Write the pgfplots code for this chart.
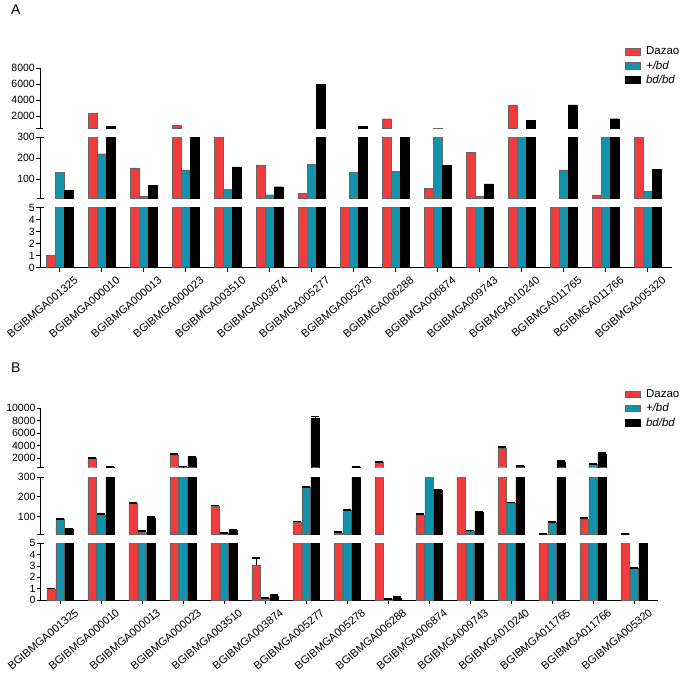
\documentclass[border=0pt]{standalone}
\usepackage{fontspec}
\setmainfont{Liberation Sans}
\usepackage{pgfplots}
\usepackage{pgfplotstable}
\pgfplotsset{compat=1.18}
\definecolor{dazao}{RGB}{241,60,62}
\definecolor{het}{RGB}{20,146,172}

% panel A: x = gene index, D = Dazao, H = +/bd, B = bd/bd
\pgfplotstableread{
x D H B
0 1 132 48
1 2370 222 750
2 155 18 73
3 910 145 400
4 400 51 159
5 165 27 65
6 34 173 5970
7 8 134 750
8 1690 138 400
9 56 530 167
10 227 22 79
11 3400 400 1450
12 7 145 3400
13 26 400 1690
14 400 45 146
}\dataA

% panel B, with errors
\pgfplotstableread{
x D H B eD eH eB
0 0.97 86 35 0.05 3 2
1 2000 109 530 80 4 30
2 165 23 94 5 2 3
3 2580 660 2100 80 30 80
4 153 17 32 3 1 2
5 3.1 0.15 0.38 0.6 0.03 0.05
6 72 246 8400 3 4 300
7 18 131 660 2 3 30
8 1410 0.05 0.2 60 0.01 0.05
9 108 400 231 4 10 4
10 400 27 121 10 2 4
11 3650 168 770 150 3 30
12 11 69 1460 2 3 60
13 87 1044 2690 4 40 100
14 11 2.77 8 1 0.08 0.3
}\dataB

\pgfplotsset{
  seg/.style={
    scale only axis,
    ybar=0.4pt, bar width=8.6pt,
    axis y line*=left,
    scaled y ticks=false,
    tick align=outside, major tick length=4pt,
    y axis line style={line width=0.9pt},
    ytick style={black, line width=0.9pt},
    yticklabel style={font=\fontsize{10.5}{12}\selectfont, inner sep=1pt},
    extra y tick style={tick align=center, major tick length=7pt},
    extra y tick labels={},
    clip marker paths=true,
  },
  upper/.style={hide x axis},
  % keep only what lies in this segment
  cap/.style 2 args={y filter/.expression={y<#1 ? nan : min(y,#2)}},
  segA/.style={seg, width=632pt, xmin=-0.469, xmax=14.58},
  segB/.style={seg, width=617.6pt, xmin=-0.478, xmax=14.59},
  genes/.style={
    axis x line*=bottom,
    xtick={0,...,14},
    xticklabels={BGIBMGA001325,BGIBMGA000010,BGIBMGA000013,BGIBMGA000023,BGIBMGA003510,BGIBMGA003874,BGIBMGA005277,BGIBMGA005278,BGIBMGA006288,BGIBMGA006874,BGIBMGA009743,BGIBMGA010240,BGIBMGA011765,BGIBMGA011766,BGIBMGA005320},
    % shifts are in the rotated frame
    x tick label style={rotate=40, anchor=north east, inner sep=0pt,
      xshift=8.2pt, yshift=-12pt, font=\fontsize{11}{12}\selectfont},
    x axis line style={line width=0.9pt},
    xtick style={black, line width=0.9pt},
  },
  box/.style={legend image code/.code={\draw[##1] (0pt,-3.3pt) rectangle (15pt,3.3pt);}},
  keys/.style={
    legend style={draw=none, fill=none, inner sep=0pt, row sep=1.5pt, column sep=4pt,
      font=\fontsize{11.5}{13}\selectfont, nodes={inner sep=1.5pt}},
    legend cell align=left,
  },
  errs/.style={
    error bars/y dir=plus, error bars/y explicit,
    error bars/error bar style={black, line width=0.7pt},
    error bars/error mark options={black, rotate=90, line width=1.8pt, mark size=4.2pt},
  },
}

\newcommand{\barsA}{%
  \addplot[fill=dazao, draw=black!60, box] table[x=x,y=D]{\dataA};
  \addplot[fill=het, draw=black!60, box] table[x=x,y=H]{\dataA};
  \addplot[fill=black, draw=black, box] table[x=x,y=B]{\dataA};
}
\newcommand{\barsB}{%
  \addplot[fill=dazao, draw=black!60, box, errs] table[x=x,y=D,y error=eD]{\dataB};
  \addplot[fill=het, draw=black!60, box, errs] table[x=x,y=H,y error=eH]{\dataB};
  \addplot[fill=black, draw=black, box, errs] table[x=x,y=B,y error=eB]{\dataB};
}

\begin{document}
\begin{tikzpicture}
\useasboundingbox (0pt,0pt) rectangle (685pt,-680pt);

\node[anchor=west, inner sep=0pt, font=\fontsize{14}{16}\selectfont] at (11pt,-10pt) {A};
\node[anchor=west, inner sep=0pt, font=\fontsize{14}{16}\selectfont] at (11pt,-367.5pt) {B};

% ---- panel A ----
\begin{axis}[segA, upper, cap={500}{11000}, at={(40pt,-128.3pt)}, anchor=south west, height=60.3pt,
  ymin=500, ymax=8000, ytick={2000,4000,6000,8000},
  yticklabels={2000,4000,6000,8000}, extra y ticks={500},
  keys, legend style={at={(axis description cs:0.9256,1.38)}, anchor=north west}]
\barsA
\addlegendentry{Dazao}
\addlegendentry{\textit{+/bd}}
\addlegendentry{\textit{bd/bd}}
\end{axis}

\begin{axis}[segA, upper, cap={10}{320}, at={(40pt,-198.3pt)}, anchor=south west, height=61pt,
  ymin=10, ymax=300, ytick={100,200,300}, yticklabels={100,200,300},
  extra y ticks={10,300}]
\barsA
\end{axis}

\begin{axis}[segA, genes, cap={-1}{6}, at={(40pt,-267.7pt)}, anchor=south west, height=60.2pt,
  ymin=0, ymax=5, ytick={0,...,5}, yticklabels={0,1,2,3,4,5},
  extra y ticks={5}]
\barsA
\end{axis}

% ---- panel B ----
\begin{axis}[segB, upper, cap={500}{11000}, at={(40.7pt,-467.7pt)}, anchor=south west, height=59.4pt,
  ymin=500, ymax=10000, ytick={2000,4000,6000,8000,10000},
  yticklabels={2000,4000,6000,8000,10000}, extra y ticks={500},
  keys, legend style={at={(axis description cs:0.946,1.345)}, anchor=north west}]
\barsB
\addlegendentry{Dazao}
\addlegendentry{\textit{+/bd}}
\addlegendentry{\textit{bd/bd}}
\end{axis}

\begin{axis}[segB, upper, cap={10}{320}, at={(40.7pt,-534.3pt)}, anchor=south west, height=57.3pt,
  ymin=10, ymax=300, ytick={100,200,300}, yticklabels={100,200,300},
  extra y ticks={10,300}]
\barsB
\end{axis}

\begin{axis}[segB, genes, cap={-1}{6}, at={(40.7pt,-600pt)}, anchor=south west, height=56.7pt,
  ymin=0, ymax=5, ytick={0,...,5}, yticklabels={0,1,2,3,4,5},
  extra y ticks={5}]
\barsB
\end{axis}
\end{tikzpicture}
\end{document}
